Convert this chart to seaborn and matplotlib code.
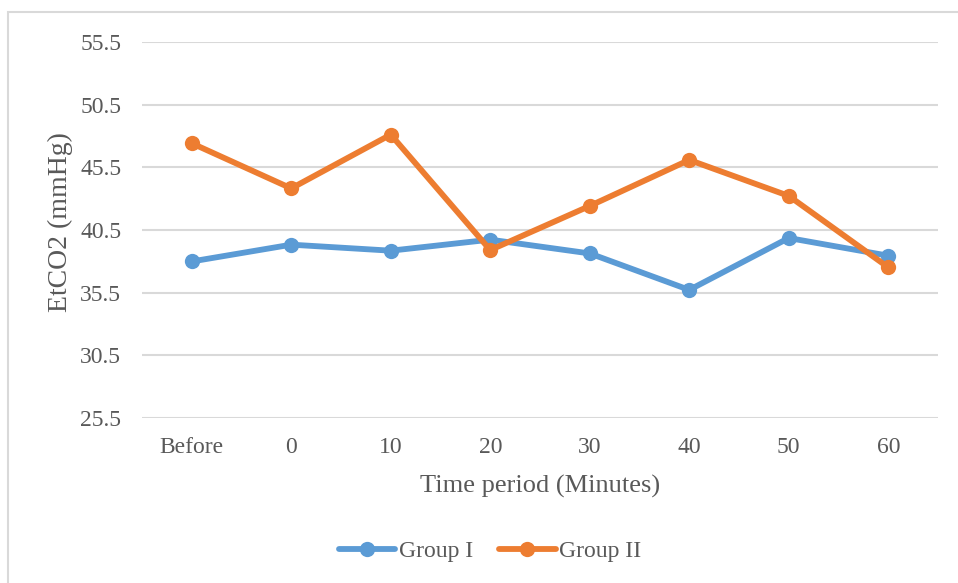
import matplotlib
matplotlib.use("Agg")
import matplotlib.pyplot as plt
from matplotlib.patches import Rectangle
import pandas as pd
import seaborn as sns

# Time points and mean EtCO2 values per group
time_labels = ["Before", "0", "10", "20", "30", "40", "50", "60"]
group_1 = [37.99, 39.33, 38.85, 39.73, 38.63, 35.72, 39.86, 38.45]
group_2 = [47.42, 43.82, 48.11, 38.90, 42.42, 46.09, 43.22, 37.52]
group_names = ["Group I", "Group II"]
y_ticks = [25.5, 30.5, 35.5, 40.5, 45.5, 50.5, 55.5]

df = pd.DataFrame({
    "time": time_labels * 2,
    "value": group_1 + group_2,
    "group": [group_names[0]] * len(time_labels) + [group_names[1]] * len(time_labels),
})

sns.set_theme(style="white")
plt.rcParams["font.family"] = ["Liberation Serif", "DejaVu Serif"]

text_color = "#595959"
grid_color = "#d9d9d9"
palette = {"Group I": "#5b9bd5", "Group II": "#ed7d31"}

fig = plt.figure(figsize=(9.58, 5.83), dpi=100)
ax = fig.add_axes([142 / 958, 1 - 418 / 583, (938 - 142) / 958, (418 - 42) / 583])

# outer chart frame
fig.patches.append(Rectangle((7.5 / 958, -0.05), 1.2, 1.05 - 12.5 / 583,
                             transform=fig.transFigure, fill=False,
                             edgecolor=grid_color, linewidth=1.5, zorder=0))

sns.lineplot(data=df, x="time", y="value", hue="group", palette=palette,
             sort=False, marker="o", markersize=11, markeredgewidth=0,
             linewidth=4.2, ax=ax, zorder=3)

ax.set_xlim(-0.5, len(time_labels) - 0.5)
ax.set_ylim(25.5, 55.5)
ax.set_yticks(y_ticks)
ax.set_yticklabels([f"{t:.1f}" for t in y_ticks])
ax.yaxis.grid(True, color=grid_color, linewidth=1.5)
ax.xaxis.grid(False)
for side in ["top", "right", "left", "bottom"]:
    ax.spines[side].set_visible(False)
ax.tick_params(axis="both", length=0, labelsize=17, labelcolor=text_color)
ax.tick_params(axis="y", pad=15)
ax.tick_params(axis="x", pad=14)

ax.set_xlabel("Time period (Minutes)", fontsize=19, color=text_color, labelpad=12)
ax.set_ylabel("EtCO2 (mmHg)", fontsize=20, color=text_color)
ax.yaxis.set_label_coords(-0.087, 0.52)

handles, labels = ax.get_legend_handles_labels()
ax.legend(handles, labels, loc="center", bbox_to_anchor=(490 / 958, 1 - 551 / 583),
          bbox_transform=fig.transFigure, ncol=2, frameon=False, fontsize=17,
          labelcolor=text_color, handlelength=2.4, handletextpad=0.15,
          columnspacing=1.1)

fig.savefig("out.png", dpi=100, facecolor="white")
